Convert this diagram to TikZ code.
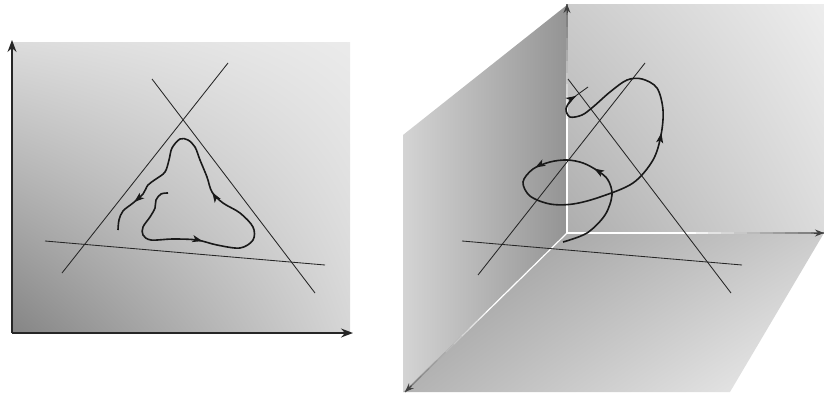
\documentclass[tikz,border=0pt]{standalone}
\usetikzlibrary{arrows.meta,decorations.markings,shadings,calc}
\tikzset{
  axisarrow/.style={line width=1.4pt, black!85, -{Stealth[length=12pt,width=9pt,inset=4pt]}},
  thinline/.style={line width=0.85pt, black!85},
  flow/.style={line width=1.6pt, black!90},
}
\begin{document}
\begin{tikzpicture}[x=1pt,y=-1pt]
\useasboundingbox (0,0) rectangle (824,396);
% ---------- left panel ----------
\coordinate (LO) at (12,333);
\coordinate (LY) at (12,40);
\coordinate (LX) at (353,333);
\shade[upper left=black!14, upper right=black!8, lower left=black!48, lower right=black!16]
  (12,43) rectangle (350,333);
\draw[axisarrow] (LO) -- (LY);
\draw[axisarrow] (LO) -- (LX);
\coordinate (l1a) at (62,273);  \coordinate (l1b) at (228,63);
\coordinate (l2a) at (152,79);  \coordinate (l2b) at (315,293);
\coordinate (l3a) at (45,241);  \coordinate (l3b) at (325,265);
\draw[thinline] (l1a) -- (l1b);
\draw[thinline] (l2a) -- (l2b);
\draw[thinline] (l3a) -- (l3b);
\draw[flow, postaction={decorate}, decoration={markings,
    mark=at position 0.275 with {\arrow{Stealth[length=10pt,width=7pt,inset=2.5pt]}},
    mark=at position 0.565 with {\arrow{Stealth[length=10pt,width=7pt,inset=2.5pt]}},
    mark=at position 0.918 with {\arrow{Stealth[length=10pt,width=7pt,inset=2.5pt]}}}]
  plot[smooth, tension=0.55] coordinates {
   (168,193) (161,194) (156,200) (155,208) (150,217) (143,227) (143,235) (151,240)
   (173,239) (197,240) (217,245) (240,248) (253,240) (253,227) (240,213) (223,203)
   (212,192) (207,177) (200,160) (195,147) (188,140) (180,139) (172,148) (169,160)
   (165,172) (156,179) (148,185) (143,194) (133,203) (123,211) (119,220) (118,230)};
% ---------- right panel ----------
\coordinate (O) at (567,233);
\coordinate (VY) at (567,4);
\coordinate (VX) at (824,233);
\coordinate (VZ) at (405,392);
% back wall
\shade[upper left=black!20, upper right=black!7, lower left=black!32, lower right=black!14]
  (567,5) rectangle (824,233);
% left wall
\shade[left color=black!17, right color=black!42]
  (567,5) -- (403,135) -- (403,392) -- (567,233) -- cycle;
% floor
\shade[upper left=black!42, upper right=black!20, lower left=black!30, lower right=black!6]
  (567,233) -- (824,233) -- (730,392) -- (403,392) -- cycle;
% fading axes
\foreach \tgt in {VY,VX,VZ}{
  \foreach \i in {0,...,19}{
    \pgfmathsetmacro\a{\i/20}
    \pgfmathsetmacro\b{(\i+1)/20}
    \pgfmathtruncatemacro\c{max(0,(\i-9)*5.5)}
    \draw[line width=1.2pt, color=black!\c] ($(O)!\a!(\tgt)$) -- ($(O)!\b!(\tgt)$);
  }
  \draw[line width=1pt, black!75, -{Stealth[length=9pt,width=7pt,inset=3pt]}] ($(O)!0.96!(\tgt)$) -- (\tgt);
}
\coordinate (r1a) at (478,275);  \coordinate (r1b) at (645,63);
\coordinate (r2a) at (568,79);   \coordinate (r2b) at (731,293);
\coordinate (r3a) at (462,241);  \coordinate (r3b) at (742,265);
\coordinate (tka) at (570,100);  \coordinate (tkb) at (588,87);
\draw[thinline] (r1a) -- (r1b);
\draw[thinline] (r2a) -- (r2b);
\draw[thinline] (r3a) -- (r3b);
\draw[thinline] (tka) -- (tkb);
\draw[flow, -{Stealth[length=10pt,width=7pt,inset=2.5pt]}, postaction={decorate}, decoration={markings,
    mark=at position 0.195 with {\arrow{Stealth[length=10pt,width=7pt,inset=2.5pt]}},
    mark=at position 0.308 with {\arrow{Stealth[length=10pt,width=7pt,inset=2.5pt]}},
    mark=at position 0.68 with {\arrow{Stealth[length=10pt,width=7pt,inset=2.5pt]}}}]
  plot[smooth, tension=0.55] coordinates {
   (563,242) (587,233) (605,215) (612,195) (608,180) (598,171) (583,163) (567,160)
   (550,162) (533,169) (523,182) (530,196) (550,204) (573,204) (600,197) (633,183)
   (653,160) (661,135) (663,110) (657,88) (642,79) (627,80) (610,92) (593,107)
   (582,115) (570,117) (566,109) (571,100) (576,96)};
\end{tikzpicture}
\end{document}
